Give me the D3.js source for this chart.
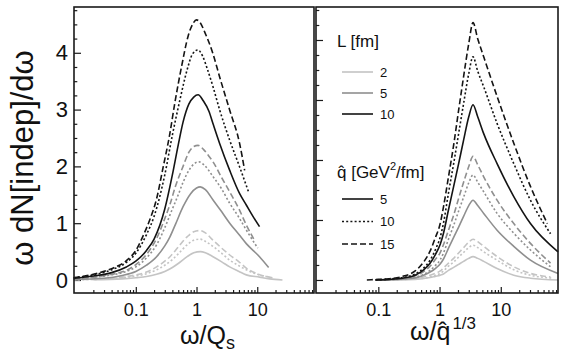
<!DOCTYPE html>
<html lang="en">
<head>
<meta charset="utf-8">
<title>omega dN/domega</title>
<script src="https://d3js.org/d3.v7.min.js"></script>
<style>
body { margin: 0; background: #fff; }
svg text { font-family: "Liberation Sans", Arial, Helvetica, sans-serif; fill: #111; }
.frame { fill: none; stroke: #1a1a1a; stroke-width: 1.6; }
.tick line { stroke: #1a1a1a; stroke-width: 1.2; }
.domain { display: none; }
.curve { fill: none; stroke-width: 1.6; }
</style>
</head>
<body>
<svg width="581" height="353"></svg>
<script>
// ---- data: [x, y] pairs ----
// left panel, x = omega/Qs
var left_L10_q15 = [[0.0095,0.04],[0.02,0.1],[0.04,0.2],[0.07,0.34],[0.1,0.52],[0.135,0.8],[0.17,1.06],[0.22,1.43],[0.28,1.97],[0.36,2.55],[0.44,3.12],[0.57,3.77],[0.73,4.3],[0.88,4.52],[1.0,4.58],[1.15,4.53],[1.37,4.36],[1.87,3.98],[2.41,3.57],[3.52,2.99],[5.13,2.4],[6.2,1.93]];
var left_L10_q10 = [[0.0095,0.04],[0.02,0.09],[0.04,0.18],[0.07,0.31],[0.1,0.47],[0.15,0.8],[0.2,1.12],[0.3,1.85],[0.4,2.55],[0.53,3.16],[0.7,3.7],[0.85,3.97],[1.05,4.05],[1.25,3.95],[1.5,3.72],[1.87,3.4],[2.41,2.99],[3.52,2.46],[5.13,1.99],[7.3,1.53]];
var left_L10_q5 = [[0.0095,0.03],[0.02,0.07],[0.04,0.13],[0.07,0.23],[0.1,0.33],[0.15,0.52],[0.2,0.72],[0.3,1.25],[0.4,1.85],[0.5,2.38],[0.6,2.78],[0.75,3.1],[0.9,3.22],[1.06,3.26],[1.3,3.15],[1.6,2.97],[1.87,2.75],[2.41,2.4],[3.52,1.93],[5.13,1.52],[6.6,1.32],[8.5,1.12],[10.9,0.94]];
var left_L5_q15 = [[0.0095,0.02],[0.02,0.05],[0.04,0.1],[0.07,0.17],[0.1,0.27],[0.15,0.45],[0.22,0.73],[0.3,1.08],[0.365,1.33],[0.45,1.65],[0.6,2.0],[0.75,2.25],[0.9,2.35],[1.06,2.37],[1.3,2.3],[1.6,2.18],[1.87,2.08],[2.6,1.8],[3.52,1.55],[5,1.25],[6.6,0.97],[9.0,0.7]];
var left_L5_q10 = [[0.0095,0.02],[0.02,0.05],[0.04,0.09],[0.07,0.15],[0.1,0.23],[0.15,0.39],[0.22,0.62],[0.3,0.92],[0.4,1.25],[0.5,1.5],[0.6,1.72],[0.75,1.93],[0.9,2.04],[1.1,2.08],[1.35,2.02],[1.87,1.82],[2.6,1.6],[3.52,1.35],[5,1.1],[6.6,0.88],[10.2,0.56]];
var left_L5_q5 = [[0.0095,0.01],[0.03,0.03],[0.06,0.08],[0.1,0.15],[0.15,0.26],[0.22,0.41],[0.3,0.6],[0.365,0.76],[0.45,0.98],[0.6,1.29],[0.8,1.52],[1.0,1.62],[1.15,1.64],[1.4,1.59],[1.87,1.41],[2.6,1.2],[3.52,1.0],[5,0.8],[6.6,0.64],[10.9,0.41],[15.4,0.22]];
var left_L2_q15 = [[0.0095,0.005],[0.03,0.02],[0.06,0.05],[0.1,0.09],[0.15,0.14],[0.22,0.23],[0.3,0.33],[0.365,0.41],[0.5,0.58],[0.7,0.76],[0.9,0.85],[1.13,0.87],[1.4,0.83],[1.87,0.7],[2.6,0.56],[3.52,0.44],[5,0.32],[6.6,0.21],[10,0.11],[17.8,0.04]];
var left_L2_q10 = [[0.0095,0.005],[0.03,0.015],[0.06,0.04],[0.1,0.07],[0.15,0.11],[0.22,0.18],[0.3,0.26],[0.4,0.36],[0.5,0.46],[0.7,0.62],[0.9,0.7],[1.15,0.72],[1.4,0.68],[1.87,0.59],[2.6,0.47],[3.52,0.35],[5,0.25],[6.6,0.18],[10,0.1],[16,0.05]];
var left_L2_q5 = [[0.02,0.003],[0.06,0.02],[0.1,0.04],[0.15,0.06],[0.22,0.1],[0.3,0.15],[0.4,0.22],[0.5,0.29],[0.7,0.41],[0.9,0.48],[1.16,0.5],[1.4,0.48],[1.87,0.41],[2.6,0.32],[3.52,0.23],[5,0.15],[6.6,0.09],[10.9,0.05],[16,0.02],[26,0.0]];

// right panel, x = omega/qhat^(1/3)
var right_L10_q15 = [[0.065,0.0],[0.1,0.01],[0.15,0.02],[0.25,0.06],[0.4,0.15],[0.55,0.3],[0.7,0.48],[0.85,0.7],[1.03,0.95],[1.16,1.22],[1.4,1.72],[1.7,2.25],[2.05,2.83],[2.47,3.39],[3.0,3.94],[3.52,4.29],[4.2,4.02],[5.26,3.72],[8.7,3.06],[16.3,2.28],[30.5,1.56],[57.6,0.94]];
var right_L10_q10 = [[0.09,0.0],[0.15,0.015],[0.25,0.04],[0.4,0.1],[0.55,0.2],[0.7,0.33],[0.85,0.5],[1.03,0.72],[1.16,0.95],[1.4,1.45],[1.7,1.94],[2.05,2.44],[2.47,2.94],[3.0,3.44],[3.52,3.72],[4.2,3.48],[5.26,3.22],[8.7,2.61],[16.3,1.94],[30.5,1.33],[65,0.77]];
var right_L10_q5 = [[0.09,0.0],[0.15,0.01],[0.25,0.03],[0.4,0.08],[0.55,0.17],[0.7,0.28],[0.85,0.42],[1.03,0.6],[1.16,0.78],[1.4,1.17],[1.7,1.56],[2.05,1.94],[2.47,2.33],[3.0,2.72],[3.52,2.92],[4.2,2.72],[5.26,2.44],[8.7,1.94],[16.3,1.39],[30.5,0.94],[86,0.47]];
var right_L5_q15 = [[0.09,0.0],[0.15,0.01],[0.25,0.03],[0.4,0.07],[0.55,0.14],[0.7,0.23],[0.85,0.34],[1.03,0.46],[1.16,0.59],[1.4,0.83],[1.7,1.08],[2.05,1.36],[2.47,1.63],[3.0,1.89],[3.52,2.06],[4.2,1.92],[5.26,1.72],[8.7,1.33],[16.3,0.94],[30.5,0.61],[65,0.28]];
var right_L5_q10 = [[0.09,0.0],[0.15,0.007],[0.25,0.02],[0.4,0.05],[0.55,0.09],[0.7,0.16],[0.85,0.24],[1.03,0.34],[1.16,0.45],[1.4,0.68],[1.7,0.91],[2.05,1.15],[2.47,1.38],[3.0,1.62],[3.52,1.75],[4.2,1.63],[5.26,1.47],[8.7,1.11],[16.3,0.78],[30.5,0.5],[65,0.22]];
var right_L5_q5 = [[0.09,0.0],[0.25,0.015],[0.4,0.035],[0.55,0.08],[0.7,0.13],[0.85,0.19],[1.03,0.27],[1.16,0.35],[1.4,0.53],[1.7,0.71],[2.05,0.88],[2.47,1.06],[3.0,1.24],[3.52,1.33],[4.2,1.24],[5.26,1.11],[8.7,0.83],[16.3,0.56],[30.5,0.33],[86,0.11]];
var right_L2_q15 = [[0.09,0.0],[0.25,0.01],[0.4,0.025],[0.55,0.05],[0.7,0.08],[0.85,0.11],[1.03,0.15],[1.16,0.2],[1.4,0.28],[1.7,0.36],[2.05,0.45],[2.47,0.54],[3.0,0.63],[3.52,0.68],[4.2,0.64],[5.26,0.56],[8.7,0.39],[16.3,0.22],[30.5,0.11],[65,0.05]];
var right_L2_q10 = [[0.09,0.0],[0.25,0.008],[0.4,0.02],[0.55,0.03],[0.7,0.05],[0.85,0.08],[1.03,0.11],[1.16,0.15],[1.4,0.23],[1.7,0.3],[2.05,0.38],[2.47,0.46],[3.0,0.54],[3.52,0.58],[4.2,0.54],[5.26,0.47],[8.7,0.33],[16.3,0.17],[30.5,0.08],[70,0.03]];
var right_L2_q5 = [[0.09,0.0],[0.4,0.01],[0.7,0.04],[0.85,0.06],[1.03,0.08],[1.16,0.1],[1.4,0.16],[1.7,0.21],[2.05,0.26],[2.47,0.31],[3.0,0.36],[3.52,0.39],[4.2,0.36],[5.26,0.31],[8.7,0.19],[16.3,0.08],[30.5,0.03],[86,0.0]];

var lengths = ["2", "5", "10"];      // L [fm]
var qhats = ["5", "10", "15"];       // qhat [GeV^2/fm]
var yTickLabels = [0, 1, 2, 3, 4];
var xTickLabels = [0.1, 1, 10];

var lengthColor = { "2": "#c4c4c4", "5": "#8f8f8f", "10": "#141414" };
var qhatDash = { "5": null, "10": "2,2.2", "15": "6,3" };

var leftCurves = [
  { L: "2", q: "5", d: left_L2_q5 }, { L: "2", q: "10", d: left_L2_q10 }, { L: "2", q: "15", d: left_L2_q15 },
  { L: "5", q: "5", d: left_L5_q5 }, { L: "5", q: "10", d: left_L5_q10 }, { L: "5", q: "15", d: left_L5_q15 },
  { L: "10", q: "5", d: left_L10_q5 }, { L: "10", q: "10", d: left_L10_q10 }, { L: "10", q: "15", d: left_L10_q15 }
];
var rightCurves = [
  { L: "2", q: "5", d: right_L2_q5 }, { L: "2", q: "10", d: right_L2_q10 }, { L: "2", q: "15", d: right_L2_q15 },
  { L: "5", q: "5", d: right_L5_q5 }, { L: "5", q: "10", d: right_L5_q10 }, { L: "5", q: "15", d: right_L5_q15 },
  { L: "10", q: "5", d: right_L10_q5 }, { L: "10", q: "10", d: right_L10_q10 }, { L: "10", q: "15", d: right_L10_q15 }
];

var svg = d3.select("svg");
var plotTop = 7, plotBottom = 293;

var xDomain = [0.0096, 86];
var xLeft = d3.scaleLog().domain(xDomain).range([74, 314]);
var xRight = d3.scaleLog().domain(xDomain).range([316, 558]);
var yLeft = d3.scaleLinear().domain([-0.229, 4.806]).range([plotBottom, plotTop]);
var yRight = d3.scaleLinear().domain([-0.217, 4.55]).range([plotBottom, plotTop]);

var minorX = [];
[0.01, 0.1, 1, 10].forEach(function(dec) {
  for (var k = 2; k <= 9; k++) {
    var v = dec * k;
    if (v > xDomain[0] && v < xDomain[1]) minorX.push(v);
  }
});
var minorY = d3.range(0, 4.76, 0.25).filter(function(v) { return v % 1 !== 0; });

function drawPanel(x, y, curves, showYLabels) {
  var g = svg.append("g");

  // x axis (ticks pointing inward)
  g.append("g")
   .attr("transform", "translate(0," + plotBottom + ")")
   .call(d3.axisBottom(x).tickValues(minorX).tickSize(-3).tickFormat(""));
  var xa = g.append("g")
   .attr("transform", "translate(0," + plotBottom + ")")
   .call(d3.axisBottom(x).tickValues(xTickLabels).tickSize(-6).tickPadding(10)
         .tickFormat(function(d) { return d; }));
  xa.selectAll("text").attr("font-size", "18px");

  // y axis on the left edge of the panel
  var x0 = x.range()[0];
  g.append("g")
   .attr("transform", "translate(" + x0 + ",0)")
   .call(d3.axisLeft(y).tickValues(minorY).tickSize(-3.3).tickFormat(""));
  var ya = g.append("g")
   .attr("transform", "translate(" + x0 + ",0)")
   .call(d3.axisLeft(y).tickValues(yTickLabels).tickSize(-7).tickPadding(6)
         .tickFormat(function(d) { return showYLabels ? d : ""; }));
  ya.selectAll("text").attr("font-size", "22px");

  var line = d3.line()
    .x(function(d) { return x(d[0]); })
    .y(function(d) { return y(d[1]); })
    .curve(d3.curveMonotoneX);

  g.selectAll(".curve")
   .data(curves)
   .enter().append("path")
   .attr("class", "curve")
   .attr("d", function(c) { return line(c.d); })
   .attr("stroke", function(c) { return lengthColor[c.L]; })
   .attr("stroke-dasharray", function(c) { return qhatDash[c.q]; });

  g.append("rect")
   .attr("class", "frame")
   .attr("x", x.range()[0]).attr("y", plotTop)
   .attr("width", x.range()[1] - x.range()[0])
   .attr("height", plotBottom - plotTop);
}

drawPanel(xLeft, yLeft, leftCurves, true);
drawPanel(xRight, yRight, rightCurves, false);

// axis titles
svg.append("text")
   .attr("transform", "translate(33,158) rotate(-90)")
   .attr("text-anchor", "middle")
   .attr("font-size", "31px")
   .text("ω dN[indep]/dω");

var xl = svg.append("text").attr("x", 180).attr("y", 344).attr("font-size", "25px");
xl.append("tspan").text("ω/Q");
xl.append("tspan").attr("font-size", "18px").attr("dy", "0.3em").text("s");

var xr = svg.append("text").attr("x", 410).attr("y", 340).attr("font-size", "25px");
xr.append("tspan").text("ω/q\u0302");
xr.append("tspan").attr("font-size", "17px").attr("dx", "2").attr("dy", "-0.62em").text("1/3");

// legends
var leg = svg.append("g");
leg.append("text").attr("x", 337).attr("y", 47).attr("font-size", "17px").text("L [fm]");
leg.selectAll(".lenItem")
   .data(lengths)
   .enter().append("g")
   .attr("class", "lenItem")
   .each(function(d, i) {
     var yy = 72 + i * 21;
     d3.select(this).append("line")
       .attr("x1", 342).attr("x2", 373).attr("y1", yy).attr("y2", yy)
       .attr("stroke", lengthColor[d]).attr("stroke-width", 1.6);
     d3.select(this).append("text")
       .attr("x", 380).attr("y", yy).attr("dy", "0.35em")
       .attr("font-size", "13px").text(d);
   });

var qt = leg.append("text").attr("x", 337).attr("y", 178).attr("font-size", "17px");
qt.append("tspan").text("q\u0302 [GeV");
qt.append("tspan").attr("font-size", "11px").attr("dy", "-0.7em").text("2");
qt.append("tspan").attr("dy", "0.45em").text("/fm]");

leg.selectAll(".qItem")
   .data(qhats)
   .enter().append("g")
   .attr("class", "qItem")
   .each(function(d, i) {
     var yy = 199 + i * 22.5;
     d3.select(this).append("line")
       .attr("x1", 342).attr("x2", 373).attr("y1", yy).attr("y2", yy)
       .attr("stroke", "#141414").attr("stroke-width", 1.6)
       .attr("stroke-dasharray", qhatDash[d]);
     d3.select(this).append("text")
       .attr("x", 380).attr("y", yy).attr("dy", "0.35em")
       .attr("font-size", "13px").text(d);
   });
</script>
</body>
</html>
